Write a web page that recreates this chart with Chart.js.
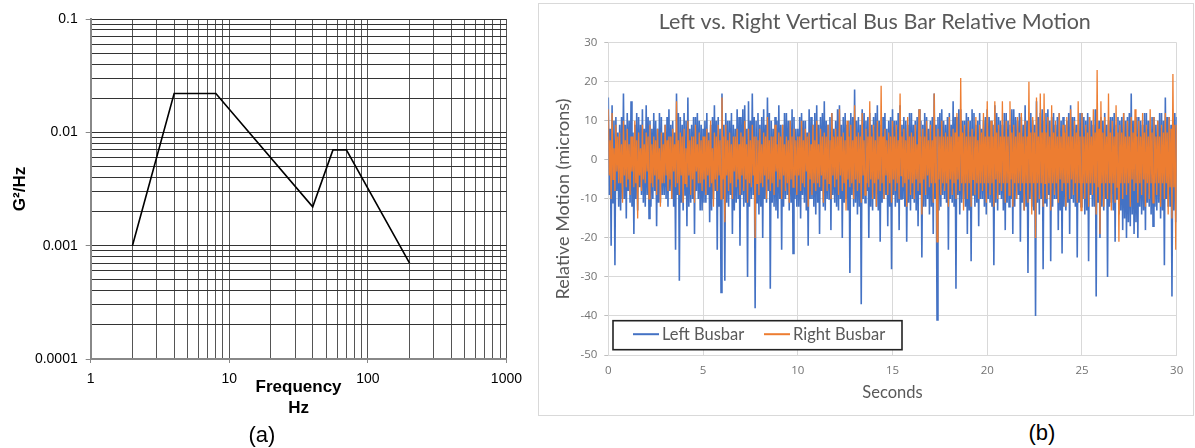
<!DOCTYPE html>
<html lang="en">
<head>
<meta charset="UTF-8">
<title>Vibration profile and bus bar relative motion</title>
<script src="https://cdn.jsdelivr.net/npm/chart.js"></script>
<style>
  body { margin: 0; background: #fff; width: 1195px; height: 448px; position: relative; overflow: hidden; }
  canvas, .frame, .caption { position: absolute; }
  #psdChart { left: 0; top: 0; }
  .frame { left: 538px; top: 3px; width: 656px; height: 413px; border: 1px solid #d9d9d9; box-sizing: border-box; }
  #motionChart { left: 539px; top: 4px; }
  .caption { width: 60px; text-align: center; font: 22px "Liberation Sans", Arial, sans-serif; line-height: 26px; color: #000; }
</style>
</head>
<body>
<canvas id="psdChart" width="530" height="448"></canvas>
<div class="frame"></div>
<canvas id="motionChart" width="654" height="411"></canvas>
<div class="caption" style="left:232px;top:422px">(a)</div>
<div class="caption" style="left:1012px;top:420px">(b)</div>

<script>
// (a) random vibration profile, log-log
const psdFreq  = [2, 4, 8, 40, 56, 70, 200];
const psdLevel = [0.001, 0.022, 0.022, 0.0022, 0.007, 0.007, 0.0007];
const freqTicks  = [1, 10, 100, 1000];
const levelTicks = [0.0001, 0.001, 0.01, 0.1];

// (b) relative motion in microns, 20 values per second, one row per second
const sampleRate = 20;
const leftBusbar = [
  16,-9,8,-22, 14,-11,10,-27, 11,-8,7,-12, 9,-13,11,-10, 17,-10,9,-15,
  12,-8,10,-11, 15,-12,7,-19, 9,-10,12,-13, 11,-7,9,-9, 13,-11,8,-12,
  14,-9,11,-15, 10,-12,8,-10, 12,-8,10,-17, 8,-11,12,-11, 11,-9,7,-9,
  9,-10,11,-12, 13,-8,9,-10, 10,-12,7,-23, 17,-9,12,-31, 11,-11,9,-13,
  12,-9,10,-17, 16,-12,8,-11, 9,-10,11,-19, 11,-8,12,-10, 10,-13,9,-13,
  8,-11,10,-11, 12,-9,7,-16, 9,-13,11,-10, 14,-8,10,-23, 11,-12,8,-34,
  17,-10,9,-31, 12,-11,10,-12, 10,-9,12,-19, 9,-13,8,-11, 13,-10,11,-22,
  11,-9,13,-12, 14,-11,8,-30, 15,-12,10,-10, 17,-9,11,-38, 10,-11,12,-14,
  9,-12,11,-20, 13,-10,9,-11, 16,-8,12,-33, 10,-11,8,-12, 11,-13,10,-15,
  14,-10,9,-23, 9,-12,12,-10, 12,-9,10,-13, 10,-11,13,-24, 11,-10,8,-12,
  8,-12,11,-15, 12,-9,10,-11, 10,-13,7,-22, 13,-10,11,-10, 9,-12,12,-14,
  14,-11,9,-19, 11,-8,12,-12, 15,-13,10,-10, 9,-10,11,-18, 12,-9,8,-11,
  10,-12,13,-13, 14,-10,9,-20, 11,-11,12,-10, 9,-13,10,-29, 12,-9,11,-12,
  18,-11,10,-14, 11,-12,9,-37, 13,-10,12,-11, 10,-8,11,-20, 12,-12,9,-13,
  11,-10,12,-12, 14,-13,10,-21, 9,-11,11,-10, 12,-9,8,-17, 10,-12,11,-28,
  13,-9,10,-12, 10,-11,12,-18, 14,-10,9,-10, 11,-12,10,-21, 9,-11,12,-13,
  12,-10,9,-11, 10,-13,11,-17, 13,-9,10,-25, 9,-12,12,-12, 11,-10,8,-14,
  10,-12,11,-19, 17,-10,9,-41, 11,-13,12,-12, 13,-9,10,-10, 9,-11,11,-23,
  12,-10,9,-11, 15,-12,11,-33, 11,-9,13,-14, 13,-11,10,-10, 10,-12,12,-19,
  11,-13,10,-26, 13,-9,12,-12, 9,-11,10,-17, 12,-10,8,-10, 10,-12,11,-14,
  13,-10,11,-11, 10,-12,9,-27, 14,-11,12,-13, 11,-9,10,-10, 9,-13,12,-18,
  12,-11,10,-12, 9,-10,13,-19, 13,-12,11,-10, 10,-9,12,-21, 11,-11,9,-13,
  14,-12,10,-29, 11,-10,12,-12, 10,-13,9,-40, 15,-11,11,-14, 12,-10,13,-28,
  10,-11,12,-12, 13,-9,10,-26, 11,-12,12,-10, 9,-10,11,-18, 12,-13,10,-24,
  11,-12,9,-13, 10,-11,12,-19, 14,-10,11,-11, 11,-12,9,-25, 9,-11,12,-12,
  12,-10,11,-14, 10,-13,12,-26, 11,-9,10,-12, 9,-12,13,-35, 13,-11,10,-20,
  11,-12,10,-13, 12,-10,9,-30, 10,-12,11,-11, 11,-13,12,-21, 9,-10,11,-14,
  10,-13,11,-18, 12,-15,10,-20, 11,-16,12,-17, 17,-14,10,-19, 10,-16,11,-20,
  11,-12,10,-14, 9,-13,12,-18, 12,-11,10,-12, 10,-14,11,-17, 11,-12,9,-13,
  10,-11,12,-15, 12,-13,10,-27, 16,-10,11,-12, 11,-12,9,-35, 10,-13,12,-16,
  11
];
const rightBusbar = [
  13,-4,5,-10, 12,-5,3,-8, 9,-3,6,-6, 7,-6,4,-11, 10,-4,5,-7,
  8,-5,4,-9, 6,-3,6,-7, 10,-6,5,-15, 7,-4,3,-8, 9,-5,4,-6,
  7,-3,6,-10, 9,-6,4,-7, 6,-4,5,-9, 8,-5,3,-12, 7,-6,4,-6,
  9,-4,5,-8, 6,-5,6,-10, 8,-3,4,-7, 15,-6,5,-9, 7,-4,6,-11,
  8,-6,3,-7, 10,-4,5,-9, 6,-5,6,-11, 9,-3,4,-6, 7,-6,5,-8,
  6,-5,6,-9, 8,-4,5,-7, 10,-6,3,-12, 7,-5,6,-8, 9,-4,5,-10,
  16,-5,6,-16, 9,-4,5,-8, 7,-6,4,-10, 6,-3,6,-7, 8,-5,4,-9,
  7,-4,6,-8, 10,-5,4,-11, 8,-6,5,-7, 9,-4,6,-20, 6,-6,5,-9,
  8,-6,4,-7, 7,-4,6,-10, 11,-5,5,-8, 6,-6,6,-9, 9,-3,4,-7,
  7,-5,6,-10, 9,-4,4,-8, 6,-6,5,-11, 10,-5,6,-7, 8,-4,5,-9,
  6,-4,6,-8, 10,-6,5,-7, 8,-3,6,-12, 7,-5,4,-9, 9,-6,5,-8,
  10,-6,4,-7, 8,-4,6,-11, 7,-5,6,-8, 9,-6,5,-10, 12,-4,6,-7,
  8,-5,6,-9, 13,-4,6,-8, 7,-6,5,-13, 10,-5,6,-7, 9,-6,5,-10,
  14,-5,6,-8, 7,-6,6,-11, 12,-4,5,-9, 8,-6,6,-7, 15,-5,6,-10,
  9,-6,5,-12, 10,-5,6,-8, 19,-6,6,-10, 8,-4,5,-9, 7,-6,6,-11,
  10,-5,6,-8, 9,-6,5,-10, 17,-4,6,-7, 8,-6,5,-12, 11,-5,6,-9,
  7,-6,6,-10, 9,-5,4,-8, 13,-6,6,-14, 8,-5,6,-9, 10,-4,5,-7,
  9,-6,5,-11, 17,-6,6,-21, 8,-5,6,-9, 10,-6,6,-8, 7,-6,6,-12,
  11,-5,6,-9, 8,-6,7,-10, 12,-5,6,-8, 21,-6,7,-13, 9,-6,6,-10,
  10,-6,6,-12, 8,-5,6,-9, 11,-6,5,-10, 9,-6,7,-8, 12,-6,6,-11,
  15,-6,6,-9, 10,-6,6,-12, 15,-5,7,-10, 9,-6,6,-8, 15,-6,6,-11,
  10,-6,6,-9, 15,-5,7,-12, 9,-6,6,-10, 11,-6,7,-8, 12,-6,6,-13,
  10,-6,6,-11, 20,-6,7,-14, 11,-6,7,-20, 16,-6,6,-10, 17,-6,7,-12,
  17,-6,7,-10, 11,-6,6,-13, 14,-6,7,-9, 10,-6,6,-11, 12,-5,6,-8,
  9,-6,7,-12, 11,-6,6,-10, 13,-5,6,-9, 10,-6,7,-11, 15,-6,6,-13,
  12,-6,6,-10, 9,-6,7,-12, 11,-6,6,-9, 13,-6,7,-14, 23,-7,8,-19,
  15,-6,7,-12, 11,-6,6,-10, 17,-6,7,-13, 10,-6,6,-11, 14,-7,7,-21,
  9,-6,7,-10, 12,-6,6,-9, 10,-6,6,-12, 11,-5,7,-8, 13,-6,6,-11,
  10,-6,6,-9, 12,-5,7,-12, 9,-6,6,-10, 13,-6,7,-11, 11,-6,6,-9,
  10,-6,6,-12, 9,-6,7,-10, 12,-6,7,-14, 11,-7,8,-15, 22,-7,9,-23,
  9
];

// gridlines at 1..9 of every decade between the labelled powers of ten
function logGrid(decades) {
  const values = [];
  for (let i = 0; i < decades.length - 1; i++) {
    for (let k = 1; k < 10; k++) values.push(decades[i] * k);
  }
  values.push(decades[decades.length - 1]);
  return values.map(v => ({ value: v }));
}

const arial = '"Liberation Sans", Arial, sans-serif';

new Chart(document.getElementById('psdChart'), {
  type: 'line',
  data: {
    datasets: [{
      data: psdFreq.map((f, i) => ({ x: f, y: psdLevel[i] })),
      borderColor: '#000',
      borderWidth: 1.6,
      pointRadius: 0,
      tension: 0
    }]
  },
  options: {
    responsive: false,
    animation: false,
    layout: { padding: { top: 19, right: 23.3, left: 0, bottom: 0 } },
    plugins: { legend: { display: false }, tooltip: { enabled: false } },
    scales: {
      x: {
        type: 'logarithmic',
        min: 1, max: 1000,
        afterBuildTicks: s => { s.ticks = logGrid(freqTicks); },
        afterFit: s => { s.height = 89; },
        grid: {
          color: '#555',
          lineWidth: 1,
          tickLength: 4,
          tickColor: c => freqTicks.includes(c.tick && c.tick.value) ? '#888' : 'rgba(0,0,0,0)'
        },
        border: { color: '#888', width: 2 },
        ticks: {
          autoSkip: false, maxRotation: 0, padding: 8,
          color: '#000', font: { family: arial, size: 14 },
          callback: v => freqTicks.includes(v) ? String(v) : ''
        },
        title: {
          display: true,
          text: ['Frequency', 'Hz'],
          color: '#000',
          font: { family: arial, size: 17, weight: 'bold', lineHeight: 1.25 },
          padding: { top: 0, bottom: 28.8 }
        }
      },
      y: {
        type: 'logarithmic',
        min: 0.0001, max: 0.1,
        afterBuildTicks: s => { s.ticks = logGrid(levelTicks); },
        afterFit: s => { s.width = 90.7; },
        grid: {
          color: '#333',
          lineWidth: 1,
          tickLength: 5,
          tickColor: c => levelTicks.includes(c.tick && c.tick.value) ? '#888' : 'rgba(0,0,0,0)'
        },
        border: { color: '#888', width: 2 },
        ticks: {
          autoSkip: false, padding: 8,
          color: '#000', font: { family: arial, size: 14 },
          callback: v => levelTicks.includes(v) ? String(v) : ''
        },
        title: {
          display: true,
          text: 'G²/Hz',
          color: '#000',
          font: { family: arial, size: 17, weight: 'bold' },
          padding: { top: 10 }
        }
      }
    }
  }
});

// legend drawn as a framed box inside the plot, bottom left
const boxLegend = {
  id: 'boxLegend',
  afterDraw(chart) {
    const { ctx, chartArea } = chart;
    const left = chartArea.left + 4.7;
    const top = chartArea.bottom - 34.3;
    const midY = top + 13.5;
    ctx.save();
    ctx.fillStyle = '#fff';
    ctx.fillRect(left, top, 289, 29);
    ctx.strokeStyle = '#222';
    ctx.lineWidth = 1.6;
    ctx.strokeRect(left, top, 289, 29);
    const offsets = [20, 151];
    ctx.font = '16.5px Lato, sans-serif';
    ctx.textBaseline = 'middle';
    chart.data.datasets.forEach((ds, i) => {
      const x = left + offsets[i];
      ctx.strokeStyle = ds.borderColor;
      ctx.lineWidth = 2;
      ctx.beginPath();
      ctx.moveTo(x, midY);
      ctx.lineTo(x + 26, midY);
      ctx.stroke();
      ctx.fillStyle = '#595959';
      ctx.fillText(ds.label, x + 29, midY);
    });
    ctx.restore();
  }
};

const tickFont = { family: '"Open Sans", sans-serif', size: 11.5 };

new Chart(document.getElementById('motionChart'), {
  type: 'line',
  data: {
    datasets: [
      {
        label: 'Left Busbar',
        data: leftBusbar.map((y, i) => ({ x: i / sampleRate, y })),
        borderColor: '#4472c4',
        borderWidth: 1.6,
        pointRadius: 0,
        order: 1
      },
      {
        label: 'Right Busbar',
        data: rightBusbar.map((y, i) => ({ x: i / sampleRate, y })),
        borderColor: '#ed7d31',
        borderWidth: 1.3,
        pointRadius: 0,
        order: 0
      }
    ]
  },
  options: {
    responsive: false,
    animation: false,
    layout: { padding: { left: 34, right: 16.3, top: 0, bottom: 0 } },
    plugins: {
      legend: { display: false },
      tooltip: { enabled: false },
      title: {
        display: true,
        text: 'Left vs. Right Vertical Bus Bar Relative Motion',
        color: '#595959',
        font: { family: 'Lato', size: 21.5, weight: 'normal' },
        padding: { top: 5, bottom: 8 }
      }
    },
    scales: {
      x: {
        type: 'linear',
        min: 0, max: 30,
        afterFit: s => { s.height = 60; },
        grid: { color: '#d9d9d9', drawTicks: false },
        border: { color: '#d9d9d9' },
        ticks: {
          stepSize: 5, padding: 9, color: '#737373', font: tickFont,
          callback: v => String(v)
        },
        title: {
          display: true,
          text: 'Seconds',
          color: '#595959',
          font: { family: 'Lato', size: 16.5 },
          padding: { top: 0, bottom: 12.4 }
        }
      },
      y: {
        min: -50, max: 30,
        afterFit: s => { s.width = 35.3; },
        grid: { color: '#d9d9d9', drawTicks: true, tickLength: 4, tickColor: '#bfbfbf' },
        border: { color: '#d9d9d9' },
        ticks: {
          stepSize: 10, padding: 7, color: '#737373', font: tickFont,
          callback: v => String(v)
        },
        title: {
          display: true,
          text: 'Relative Motion (microns)',
          color: '#595959',
          font: { family: 'Lato', size: 18 },
          padding: { top: -20.8 }
        }
      }
    }
  },
  plugins: [boxLegend]
});
</script>
</body>
</html>
